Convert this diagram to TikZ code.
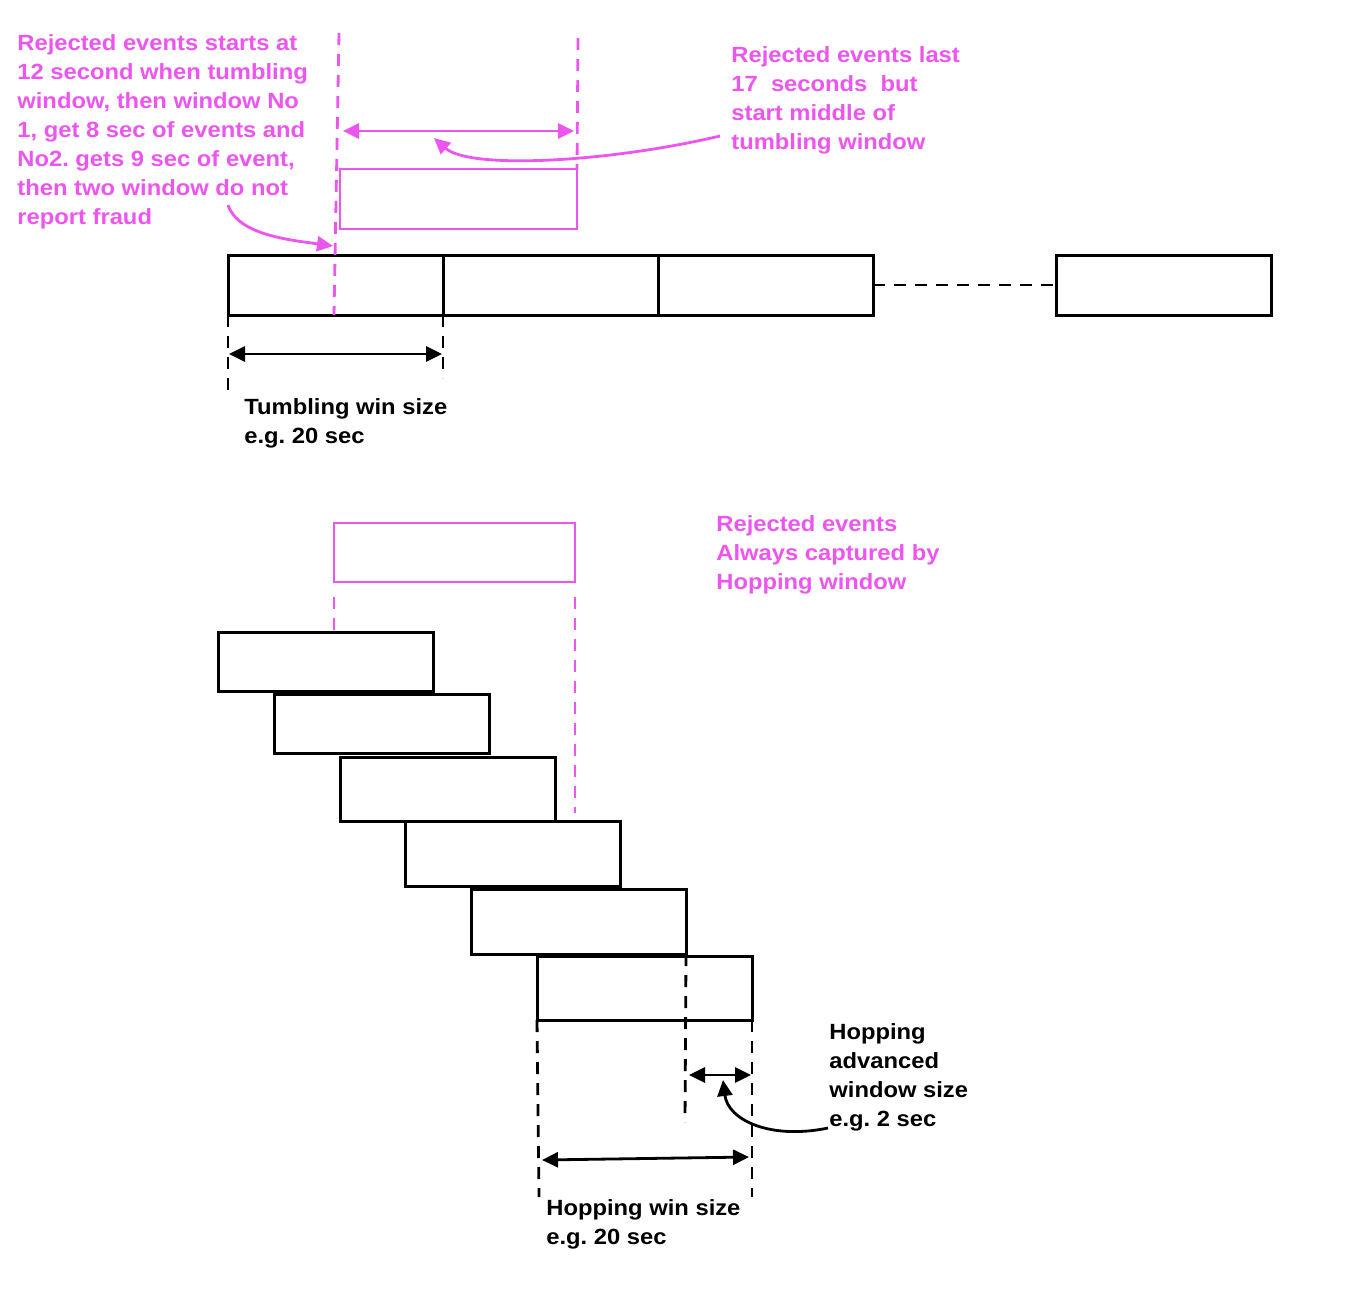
\documentclass[tikz,border=0pt]{standalone}
\usepackage{fontspec}
\setmainfont{Liberation Sans}[FakeStretch=1.08]
\usetikzlibrary{arrows.meta}
\definecolor{rejpink}{RGB}{236,86,238}
\frenchspacing
\tikzset{
  win/.style={draw,line width=1.5pt,minimum width=107.5pt,minimum height=30pt,inner sep=0pt,outer sep=0pt,anchor=north west},
  rejbox/.style={draw=rejpink,line width=1.4pt,minimum height=30pt,inner sep=0pt,outer sep=0pt,anchor=north west},
  guide/.style={dash pattern=on 6pt off 4.5pt,line width=1.4pt},
  dimarrow/.style={{Triangle[length=8pt,width=7.5pt]}-{Triangle[length=8pt,width=7.5pt]},line width=1.4pt},
  pointer/.style={-{Triangle[length=8pt,width=7.5pt]},line width=1.4pt},
  note/.style={align=left,inner sep=0pt,anchor=north west,font=\bfseries\fontsize{11}{14.5}\selectfont},
}
\begin{document}
\begin{tikzpicture}[x=0.5pt,y=-0.5pt]
\useasboundingbox (0,0) rectangle (1364,1306);
% tumbling windows
\node[win] (t1) at (228,255) {};
\node[win] (t2) at (443,255) {};
\node[win] (t3) at (658,255) {};
\node[win] (tn) at (1056,255) {};
\draw[guide] (t3.east) -- (tn.west);
% rejected events, tumbling
\node[rejbox,minimum width=118.5pt] (r1) at (340,169) {};
\draw[guide,rejpink] (339,33) -- (334,315);
\draw[guide,rejpink] (578,38) -- (r1.north east);
\draw[dimarrow,rejpink] (343,131) -- (574,131);
\node[note,text=rejpink] (leftnote) at (17,34) {Rejected events starts at\\12 second when tumbling\\window, then window No\\1, get 8 sec of events and\\No2. gets 9 sec of event,\\then two window do not\\report fraud};
\node[note,text=rejpink] (lastnote) at (731,46) {Rejected events last\\17\ \ seconds\ \ but\\start middle of\\tumbling window};
\draw[pointer,rejpink] (720,136) .. controls (610,162) and (470,170) .. (434,138);
\draw[pointer,rejpink] (228,205) .. controls (238,235) and (290,240) .. (333,246);
% tumbling size
\draw[guide] (t1.south west) -- (228,394);
\draw[guide] (t1.south east) -- (443,378);
\draw[dimarrow] (229,354) -- (442,354);
\node[note] (tumblenote) at (244,398) {Tumbling win size\\e.g. 20 sec};
% rejected events, hopping
\node[rejbox,minimum width=120.5pt,minimum height=29.5pt] (r2) at (334,523) {};
\node[note,text=rejpink] (hopnote) at (716,515) {Rejected events\\Always captured by\\Hopping window};
% hopping windows
\foreach \x/\y/\h [count=\i] in {218/632/59,274/694/59,340/757/64,405/821/65,471/889/65,537/956/64}
  \node[win,minimum height=\h*0.5pt] (h\i) at (\x,\y) {};
\draw[guide,rejpink] (334,597) -- (h1.north -| 334,0);
\draw[guide,rejpink] (575,597) -- (575,813);
% hopping sizes
\draw[guide] (h6.south west) -- (539,1197);
\draw[guide] (h5.south east) -- (685,1122);
\draw[guide] (h6.south east) -- (752,1197);
\draw[dimarrow] (689,1075) -- (751,1075);
\draw[dimarrow] (542,1160) -- (749,1157);
\node[note] (advnote) at (829,1023) {Hopping\\advanced\\window size\\e.g. 2 sec};
\draw[pointer] (828,1128) .. controls (770,1140) and (728,1120) .. (723,1080);
\node[note] (sizenote) at (546,1199) {Hopping win size\\e.g. 20 sec};
\end{tikzpicture}
\end{document}
